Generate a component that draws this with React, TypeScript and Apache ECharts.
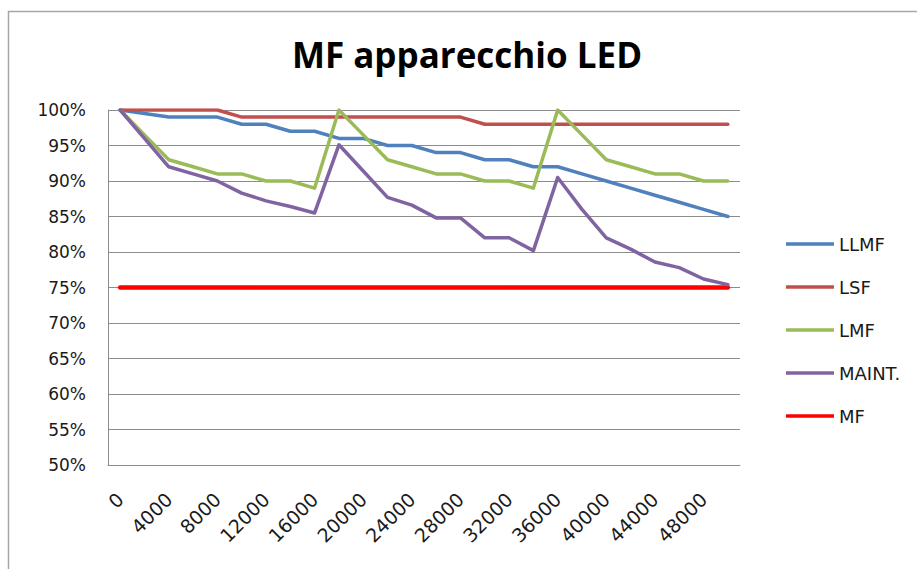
import React, { useEffect, useRef } from "react";
import * as echarts from "echarts";

const categories = [
  "0", "2000", "4000", "6000", "8000", "10000", "12000", "14000", "16000", "18000",
  "20000", "22000", "24000", "26000", "28000", "30000", "32000", "34000", "36000", "38000",
  "40000", "42000", "44000", "46000", "48000", "50000",
];

const llmf = [100, 99.5, 99, 99, 99, 98, 98, 97, 97, 96, 96, 95, 95, 94, 94, 93, 93, 92, 92, 91, 90, 89, 88, 87, 86, 85];
const lsf = [100, 100, 100, 100, 100, 99, 99, 99, 99, 99, 99, 99, 99, 99, 99, 98, 98, 98, 98, 98, 98, 98, 98, 98, 98, 98];
const lmf = [100, 96.5, 93, 92, 91, 91, 90, 90, 89, 100, 96.5, 93, 92, 91, 91, 90, 90, 89, 100, 96.5, 93, 92, 91, 91, 90, 90];
const maint = [100, 96, 92, 91, 90, 88.3, 87.2, 86.4, 85.5, 95.1, 91.4, 87.7, 86.6, 84.8, 84.8, 82, 82, 80.2, 90.5, 86, 82, 80.4, 78.6, 77.8, 76.2, 75.4];
const mf = [75, 75, 75, 75, 75, 75, 75, 75, 75, 75, 75, 75, 75, 75, 75, 75, 75, 75, 75, 75, 75, 75, 75, 75, 75, 75];

const seriesNames = ["LLMF", "LSF", "LMF", "MAINT.", "MF"];
const seriesColors = ["#4F81BD", "#C0504D", "#9BBB59", "#8064A2", "#FF0000"];
const seriesData = [llmf, lsf, lmf, maint, mf];

const FONT = "'DejaVu Sans', sans-serif";

export default function App() {
  const ref = useRef<HTMLDivElement>(null);
  useEffect(() => {
    document.body.style.margin = "0";
    const chart = echarts.init(ref.current!, null, { renderer: "svg" });
    chart.setOption({
      animation: false,
      backgroundColor: "#ffffff",
      graphic: [
        {
          type: "rect",
          shape: { x: 8.5, y: 11.5, width: 930, height: 580 },
          style: { fill: "none", stroke: "#a6a6a6", lineWidth: 1.5 },
          silent: true,
        },
        {
          type: "text",
          x: 467,
          y: 54,
          style: {
            text: "MF apparecchio LED",
            font: "bold 35px 'Open Sans', sans-serif",
            fill: "#000000",
            textAlign: "center",
            textVerticalAlign: "middle",
          },
        },
      ],
      legend: {
        orient: "vertical",
        left: 781,
        top: 230,
        icon: "rect",
        itemWidth: 48,
        itemHeight: 3.5,
        itemGap: 25,
        itemStyle: { borderWidth: 0 },
        textStyle: { fontFamily: FONT, fontSize: 18, color: "#1a1a1a", lineHeight: 18 },
        data: seriesNames,
      },
      grid: { left: 108, right: 177, top: 110, bottom: 104, containLabel: false },
      xAxis: {
        type: "category",
        data: categories,
        boundaryGap: true,
        axisLine: { show: true, lineStyle: { color: "#8c8c8c", width: 1 } },
        axisTick: { show: false },
        axisLabel: {
          interval: 1,
          rotate: 45,
          margin: 31,
          fontFamily: FONT,
          fontSize: 19,
          color: "#1a1a1a",
        },
        splitLine: { show: false },
      },
      yAxis: {
        type: "value",
        min: 50,
        max: 100,
        interval: 5,
        axisLine: { show: true, lineStyle: { color: "#8c8c8c", width: 1 } },
        axisTick: { show: false },
        axisLabel: {
          formatter: "{value}%",
          margin: 22,
          fontFamily: FONT,
          fontSize: 17,
          color: "#1a1a1a",
        },
        splitLine: { show: true, lineStyle: { color: "#8c8c8c", width: 1 } },
      },
      series: seriesNames.map((name, i) => ({
        name,
        type: "line",
        data: seriesData[i],
        symbol: "none",
        color: seriesColors[i],
        lineStyle: { width: name === "MF" ? 4.5 : 3.5, color: seriesColors[i], join: "round", cap: "round" },
        z: name === "MF" ? 1 : 2 + i,
      })),
    });
    return () => chart.dispose();
  }, []);
  return <div ref={ref} style={{ width: 917, height: 569 }} />;
}
